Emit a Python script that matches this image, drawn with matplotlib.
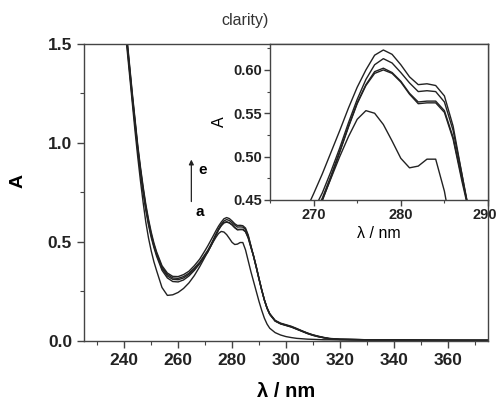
import numpy as np
import matplotlib.pyplot as plt
import matplotlib.transforms as mtransforms
from matplotlib.ticker import MultipleLocator

# wavelength grid (nm)
wl = [240, 241, 242, 243, 244, 245, 246, 247, 248, 249, 250, 251, 252,
      254, 256, 258, 260, 262, 264, 266, 268,
      269, 270, 271, 272, 273, 274, 275, 276, 277, 278, 279, 280, 281, 282,
      283, 284, 285, 286, 287, 288, 289, 290, 291, 292, 293, 294,
      296, 298, 300, 302, 304, 306, 308, 310, 312, 314, 316,
      320, 330, 340, 350, 360, 375]

# absorbance of spectra a..e
abs_a = [1.60, 1.48, 1.34, 1.20, 1.06, 0.93, 0.81, 0.70, 0.60, 0.52, 0.455, 0.40, 0.355,
         0.27, 0.23, 0.233, 0.245, 0.265, 0.293, 0.33, 0.375,
         0.40, 0.425, 0.45, 0.475, 0.50, 0.523, 0.543, 0.553, 0.550, 0.537, 0.518, 0.498, 0.487, 0.489,
         0.497, 0.497, 0.46, 0.405, 0.35, 0.30, 0.25, 0.20, 0.155, 0.115, 0.085, 0.064,
         0.042, 0.030, 0.022, 0.017, 0.013, 0.011, 0.009, 0.008, 0.007, 0.006, 0.006,
         0.005, 0.004, 0.004, 0.003, 0.003, 0.003]
abs_b = [1.61, 1.50, 1.36, 1.22, 1.09, 0.96, 0.85, 0.75, 0.66, 0.585, 0.523, 0.472, 0.428,
         0.357, 0.318, 0.300, 0.298, 0.308, 0.328, 0.356, 0.39,
         0.41, 0.43, 0.449, 0.476, 0.505, 0.534, 0.561, 0.582, 0.596, 0.600, 0.596, 0.586, 0.572, 0.561,
         0.562, 0.562, 0.551, 0.52, 0.472, 0.428, 0.374, 0.315, 0.258, 0.206, 0.164, 0.134,
         0.100, 0.086, 0.078, 0.070, 0.059, 0.048, 0.037, 0.028, 0.021, 0.016, 0.011,
         0.008, 0.006, 0.005, 0.004, 0.003, 0.003]
abs_c = [1.62, 1.51, 1.37, 1.23, 1.10, 0.97, 0.86, 0.76, 0.67, 0.595, 0.532, 0.48, 0.436,
         0.366, 0.328, 0.311, 0.309, 0.318, 0.336, 0.362, 0.393,
         0.413, 0.433, 0.452, 0.478, 0.506, 0.535, 0.562, 0.583, 0.598, 0.602, 0.597, 0.587, 0.573, 0.563,
         0.564, 0.564, 0.553, 0.522, 0.475, 0.43, 0.375, 0.316, 0.259, 0.207, 0.165, 0.135,
         0.101, 0.087, 0.079, 0.071, 0.060, 0.049, 0.038, 0.029, 0.022, 0.016, 0.012,
         0.008, 0.006, 0.005, 0.004, 0.003, 0.003]
abs_d = [1.63, 1.52, 1.38, 1.24, 1.11, 0.98, 0.87, 0.77, 0.68, 0.605, 0.54, 0.487, 0.443,
         0.373, 0.336, 0.318, 0.316, 0.325, 0.342, 0.368, 0.398,
         0.418, 0.438, 0.458, 0.483, 0.51, 0.539, 0.566, 0.589, 0.606, 0.613, 0.608, 0.597, 0.585, 0.575,
         0.576, 0.575, 0.563, 0.53, 0.48, 0.428, 0.372, 0.314, 0.258, 0.207, 0.166, 0.136,
         0.102, 0.088, 0.080, 0.072, 0.061, 0.050, 0.039, 0.030, 0.023, 0.017, 0.012,
         0.008, 0.006, 0.005, 0.004, 0.003, 0.003]
abs_e = [1.64, 1.53, 1.39, 1.25, 1.12, 0.99, 0.88, 0.78, 0.69, 0.615, 0.55, 0.495, 0.45,
         0.38, 0.343, 0.326, 0.325, 0.335, 0.352, 0.38, 0.413,
         0.435, 0.457, 0.48, 0.505, 0.53, 0.556, 0.58, 0.60, 0.617, 0.623, 0.618, 0.606, 0.592, 0.583,
         0.584, 0.582, 0.57, 0.535, 0.48, 0.425, 0.37, 0.312, 0.258, 0.208, 0.168, 0.138,
         0.104, 0.090, 0.082, 0.074, 0.063, 0.051, 0.040, 0.031, 0.024, 0.018, 0.013,
         0.009, 0.006, 0.005, 0.004, 0.004, 0.003]

spectra = [abs_a, abs_b, abs_c, abs_d, abs_e]

plt.rcParams['font.family'] = ['Liberation Sans', 'DejaVu Sans']
line_col = '#222222'
spine_col = '#444444'

fig = plt.figure(figsize=(4.99, 4.03), dpi=100)
ax = fig.add_axes([0.168, 0.154, 0.810, 0.737])

for s in spectra:
    ax.plot(wl, s, color=line_col, lw=1.0)

ax.set_xlim(225, 375)
ax.set_ylim(0, 1.5)
ax.xaxis.set_minor_locator(MultipleLocator(10))
ax.yaxis.set_major_locator(MultipleLocator(0.5))
ax.yaxis.set_minor_locator(MultipleLocator(0.25))
ax.set_xticks(range(240, 361, 20))
ax.tick_params(which='both', direction='out', colors=spine_col, labelcolor='#222222',
               top=False, right=False)
ax.tick_params(which='major', length=5, width=1)
ax.tick_params(which='minor', length=3, width=0.8)
for lab in ax.get_xticklabels() + ax.get_yticklabels():
    lab.set_fontweight('bold')
    lab.set_fontsize(12.5)
for sp in ax.spines.values():
    sp.set_color(spine_col)
    sp.set_linewidth(1)
ax.set_xlabel('λ / nm', fontsize=14.5, fontweight='bold')
ax.xaxis.set_label_coords(0.5, -0.137)
ax.set_ylabel('A', fontsize=14, fontweight='bold')
ax.yaxis.set_label_coords(-0.141, 0.54)

# a -> e arrow
ax.annotate('', xy=(264.9, 0.93), xytext=(264.9, 0.69),
            arrowprops=dict(arrowstyle='-|>', color=line_col, lw=0.9, mutation_scale=7))
ax.text(269.0, 0.865, 'e', fontsize=11, fontweight='bold', ha='center', va='center')
ax.text(268.0, 0.65, 'a', fontsize=11, fontweight='bold', ha='center', va='center')

fig.text(0.491, 0.95, 'clarity)', fontsize=11.5, ha='center', va='center', color='#333333')

# inset
axin = fig.add_axes([0.541, 0.504, 0.437, 0.387])
for s in spectra:
    axin.plot(wl, s, color=line_col, lw=1.0)
axin.set_xlim(265, 290)
axin.set_ylim(0.45, 0.63)
axin.set_xticks([270, 280, 290])
axin.xaxis.set_minor_locator(MultipleLocator(5))
axin.set_yticks([0.45, 0.50, 0.55, 0.60])
axin.yaxis.set_minor_locator(MultipleLocator(0.025))
axin.set_yticklabels(['0.45', '0.50', '0.55', '0.60'])
axin.tick_params(which='both', direction='out', colors=spine_col, labelcolor='#222222',
                 top=False, right=False, pad=2)
axin.tick_params(which='major', length=4, width=1)
axin.tick_params(which='minor', length=2.5, width=0.8)
for lab in axin.get_xticklabels() + axin.get_yticklabels():
    lab.set_fontweight('bold')
    lab.set_fontsize(10.5)
# keep the last inset label inside the figure
last = axin.get_xticklabels()[-1]
last.set_transform(last.get_transform() +
                   mtransforms.ScaledTranslation(-3 / 100, 0, fig.dpi_scale_trans))
for sp in axin.spines.values():
    sp.set_color(spine_col)
    sp.set_linewidth(1)
axin.set_xlabel('λ / nm', fontsize=11.5, labelpad=3)
axin.set_ylabel('A', fontsize=11.5, labelpad=4)

fig.savefig('out.png', dpi=100)
